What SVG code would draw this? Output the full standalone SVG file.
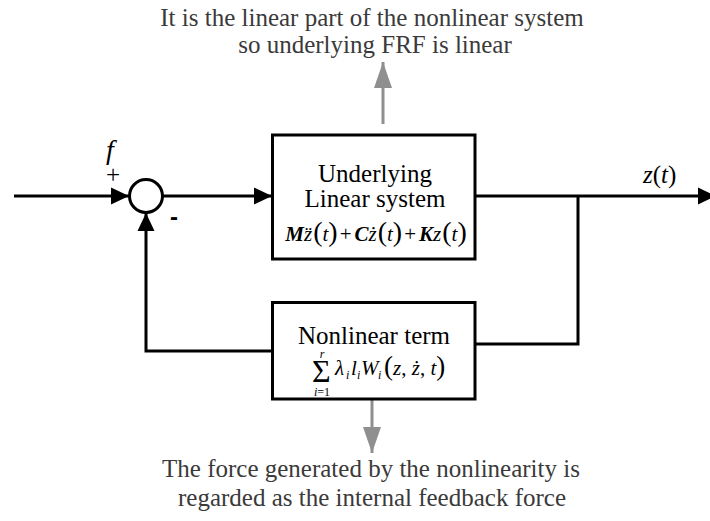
<svg xmlns="http://www.w3.org/2000/svg" width="710" height="521" viewBox="0 0 710 521">
<defs>
<style>
.ln{fill:none;stroke:#000;stroke-width:3}
.gl{fill:none;stroke:#8f8f8f;stroke-width:3}
.box{fill:#fff;stroke:#000;stroke-width:3}
.t{font-family:"Liberation Serif","Times New Roman",serif;fill:#000}
.note{font-family:"Liberation Serif","Times New Roman",serif;font-size:25px;fill:#3a3a3a;text-anchor:middle}
.s{font-family:"Liberation Sans",Arial,sans-serif;fill:#000}
.i{font-style:italic}
.bi{font-style:italic;font-weight:bold}
</style>
<marker id="ah" markerWidth="18" markerHeight="18" viewBox="0 0 18 18" refX="18" refY="9" orient="auto" markerUnits="userSpaceOnUse">
<path d="M0,0.5 L18,9 L0,17.5 Z" fill="#000"/>
</marker>
<marker id="gh" markerWidth="26" markerHeight="18" viewBox="0 0 26 18" refX="26" refY="9" orient="auto" markerUnits="userSpaceOnUse">
<path d="M0,0 L26,9 L0,18 Z" fill="#8f8f8f"/>
</marker>
</defs>
<rect width="710" height="521" fill="#fff"/>

<g id="connectors">
<line class="ln" x1="14" y1="196" x2="129" y2="196" marker-end="url(#ah)"/>
<line class="ln" x1="162.5" y1="196" x2="272" y2="196" marker-end="url(#ah)"/>
<line class="ln" x1="475" y1="196" x2="716" y2="196" marker-end="url(#ah)"/>
<polyline class="ln" points="578,196 578,344 475,344"/>
<polyline class="ln" points="272,351 146,351 146,213" marker-end="url(#ah)"/>
<line class="gl" x1="383" y1="124" x2="383" y2="62" marker-end="url(#gh)"/>
<line class="gl" x1="372" y1="399" x2="372" y2="453" marker-end="url(#gh)"/>
</g>

<g id="sum">
<circle cx="146" cy="196" r="16.5" fill="#fff" stroke="#000" stroke-width="3"/>
<text class="t i" x="110" y="159" font-size="28" text-anchor="middle">f</text>
<text class="t" x="113" y="183" font-size="25" text-anchor="middle">+</text>
<text class="s" x="174" y="225" font-size="24" font-weight="bold" text-anchor="middle">-</text>
</g>

<g id="linear-system">
<rect class="box" x="272.5" y="135" width="202.5" height="124"/>
<text class="t" x="375" y="182" font-size="25" text-anchor="middle">Underlying</text>
<text class="t" x="375" y="207" font-size="25" text-anchor="middle">Linear system</text>
<text class="t" x="376" y="241" font-size="21" text-anchor="middle"><tspan class="bi">M</tspan><tspan class="i">z&#776;</tspan><tspan font-size="28" dx="1">(</tspan><tspan class="i">t</tspan><tspan font-size="28">)</tspan><tspan dx="2">+</tspan><tspan class="bi" dx="3">C</tspan><tspan class="i">ż</tspan><tspan font-size="28" dx="1">(</tspan><tspan class="i">t</tspan><tspan font-size="28">)</tspan><tspan dx="2">+</tspan><tspan class="bi" dx="3">K</tspan><tspan class="i">z</tspan><tspan font-size="28" dx="1">(</tspan><tspan class="i">t</tspan><tspan font-size="28">)</tspan></text>
</g>

<g id="nonlinear-term">
<rect class="box" x="272.5" y="302.5" width="202.5" height="96.5"/>
<text class="t" x="374" y="344" font-size="25" text-anchor="middle">Nonlinear term</text>
<text class="t" x="312" y="382" font-size="32">Σ</text>
<text class="t i" x="322" y="358" font-size="12" text-anchor="middle">r</text>
<text class="t" x="322" y="396" font-size="12" text-anchor="middle"><tspan class="i">i</tspan>=1</text>
<text class="t" y="375" font-size="21"><tspan class="i" x="335">λ</tspan><tspan class="i" x="346" y="379" font-size="12">i</tspan><tspan class="i" x="351" y="375">l</tspan><tspan class="i" x="357" y="379" font-size="12">i</tspan><tspan class="i" x="361" y="375">W</tspan><tspan class="i" x="378" y="379" font-size="12">i</tspan><tspan x="384" y="375" font-size="27">(</tspan><tspan class="i">z</tspan><tspan>, </tspan><tspan class="i">ż</tspan><tspan>, </tspan><tspan class="i">t</tspan><tspan font-size="27">)</tspan></text>
</g>

<g id="output-label">
<text class="t" x="643" y="183" font-size="25"><tspan class="i">z</tspan>(<tspan class="i">t</tspan>)</text>
</g>

<g id="note-top">
<text class="note" x="372" y="26">It is the linear part of the nonlinear system</text>
<text class="note" x="375" y="53">so underlying FRF is linear</text>
</g>

<g id="note-bottom">
<text class="note" x="371" y="477">The force generated by the nonlinearity is</text>
<text class="note" x="372" y="506">regarded as the internal feedback force</text>
</g>
</svg>
